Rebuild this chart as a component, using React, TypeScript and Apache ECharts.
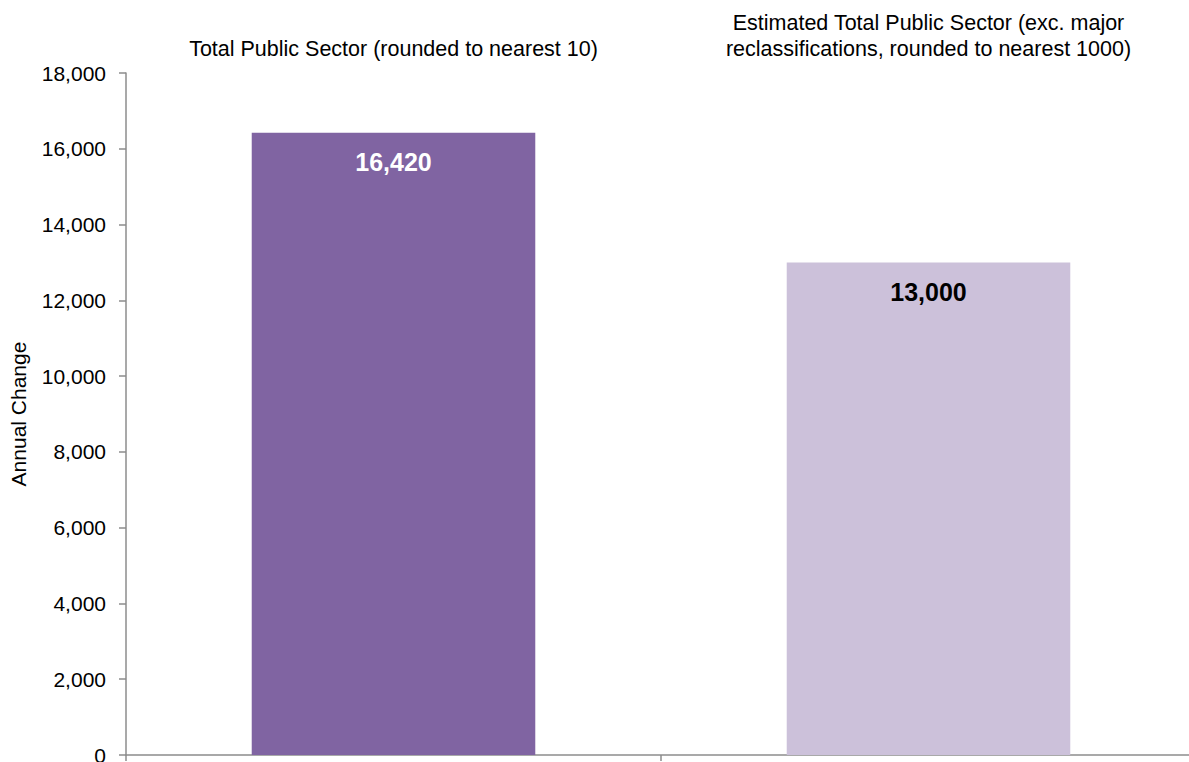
import React, { useEffect, useRef } from "react";
import * as echarts from "echarts";

const categories = [
  "Total Public Sector (rounded to nearest 10)",
  "Estimated Total Public Sector (exc. major\nreclassifications, rounded to nearest 1000)",
];
const values = [16420, 13000];
const barColors = ["#8064A2", "#CCC1DA"];
const labelColors = ["#FFFFFF", "#000000"];
const yAxisName = "Annual Change";

const FONT = "'Liberation Sans', Arial, sans-serif";

export default function App() {
  const ref = useRef<HTMLDivElement>(null);
  useEffect(() => {
    if (!ref.current) return;
    const chart = echarts.init(ref.current, undefined, { renderer: "svg" });
    chart.setOption({
      animation: false,
      textStyle: { fontFamily: FONT },
      grid: {
        left: 126,
        top: 73,
        right: -7,
        bottom: 7,
        containLabel: false,
        outerBoundsMode: "none",
      },
      xAxis: [
        {
          type: "category",
          data: categories,
          position: "bottom",
          axisLine: { lineStyle: { color: "#8C8C8C", width: 1.5 } },
          axisTick: { show: true, length: 6, lineStyle: { color: "#8C8C8C", width: 1.5 } },
          axisLabel: { show: false },
        },
        {
          type: "category",
          data: categories,
          position: "top",
          axisLine: { show: false },
          axisTick: { show: false },
          axisLabel: {
            interval: 0,
            fontFamily: FONT,
            fontSize: 21.5,
            color: "#000",
            lineHeight: 26,
            margin: 11,
          },
        },
      ],
      yAxis: {
        type: "value",
        min: 0,
        max: 18000,
        interval: 2000,
        name: yAxisName,
        nameLocation: "middle",
        nameGap: 97,
        nameTextStyle: { fontFamily: FONT, fontSize: 21, color: "#000" },
        axisLine: { show: true, lineStyle: { color: "#8C8C8C", width: 1.5 } },
        axisTick: { show: true, length: 7, lineStyle: { color: "#8C8C8C", width: 1.5 } },
        splitLine: { show: false },
        axisLabel: {
          fontFamily: FONT,
          fontSize: 21,
          color: "#000",
          margin: 20,
          formatter: (v: number) => v.toLocaleString("en-US"),
        },
      },
      series: [
        {
          type: "bar",
          xAxisIndex: 0,
          barCategoryGap: "47%",
          data: values.map((v, i) => ({
            value: v,
            itemStyle: { color: barColors[i] },
            label: {
              show: true,
              position: "insideTop",
              distance: 17,
              fontFamily: FONT,
              fontSize: 25,
              fontWeight: "bold",
              color: labelColors[i],
              formatter: (p: any) => Number(p.value).toLocaleString("en-US"),
            },
          })),
        },
      ],
    });
    return () => chart.dispose();
  }, []);
  return <div ref={ref} style={{ width: 1189, height: 762, position: "absolute", left: 0, top: 0 }} />;
}
